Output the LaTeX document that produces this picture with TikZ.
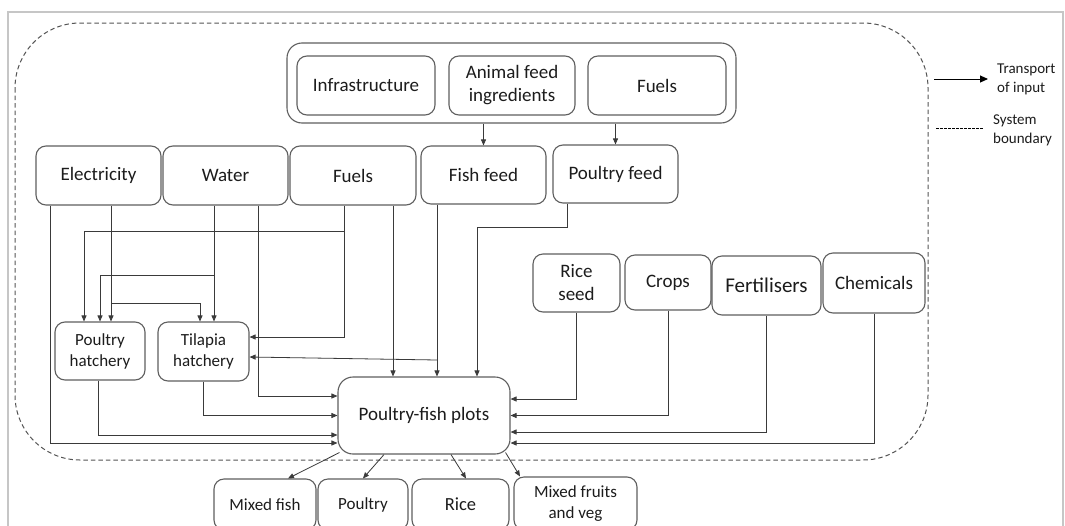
\documentclass[tikz,border=0pt]{standalone}
\usepackage{fontspec}
\setmainfont{Carlito}
\usetikzlibrary{arrows.meta}
\definecolor{boxline}{HTML}{5F5F5F}
\definecolor{wire}{HTML}{3A3A3A}
\definecolor{ink}{HTML}{1C1C1C}
\definecolor{framegray}{HTML}{C6C6C6}
\definecolor{bound}{HTML}{555555}
\begin{document}
\begin{tikzpicture}[x=1pt,y=-1pt,
  box/.style={draw=boxline, line width=1.1pt, rounded corners=10pt, inner sep=0pt,
    align=center, text=ink, font=\fontsize{19}{23}\selectfont},
  smallbox/.style={box, font=\fontsize{17}{21}\selectfont},
  arr/.style={draw=wire, line width=0.8pt, -{Triangle[length=6pt,width=5pt]}},
  legarr/.style={draw=black, line width=1pt, -{Triangle[length=8pt,width=7pt]}},
  legdash/.style={draw=black, line width=0.8pt, dash pattern=on 2.5pt off 1.5pt},
  legtext/.style={inner sep=0pt, align=left, text=ink, font=\fontsize{15}{19}\selectfont},
  boundary/.style={draw=bound, line width=1pt, dash pattern=on 4.5pt off 3pt, rounded corners=65pt}
]
\clip (0,0) rectangle (1065,525);
\fill[white] (0,0) rectangle (1065,525);
% page frame
\draw[framegray, line width=1.5pt] (8,540) -- (8,12) -- (1063,12) -- (1063,540);
% system boundary
\draw[boundary] (15,23) rectangle (928,460);

% upstream input group
\node[box, rounded corners=15pt, minimum width=449pt, minimum height=80pt] (grp) at (511.5,83) {};
\node[box, minimum width=138pt, minimum height=59pt] (infra) at (366,85.5) {Infrastructure};
\node[box, minimum width=126pt, minimum height=59pt] (afi) at (512,85.5) {Animal feed\\ingredients};
\node[box, minimum width=138pt, minimum height=59pt] (fuelsT) at (657,85.5) {Fuels};

% direct inputs
\node[box, minimum width=125pt, minimum height=59pt] (elec) at (98.5,175.5) {Electricity};
\node[box, minimum width=125pt, minimum height=59pt] (water) at (225.5,175.5) {Water};
\node[box, minimum width=126pt, minimum height=59pt] (fuels) at (353,175.5) {Fuels};
\node[box, minimum width=125pt, minimum height=58pt] (fishfeed) at (483.5,175) {Fish feed};
\node[box, minimum width=125pt, minimum height=58pt] (pfeed) at (615.5,174) {Poultry feed};

% hatcheries
\node[smallbox, minimum width=90pt, minimum height=58pt] (phatch) at (100,351) {Poultry\\hatchery};
\node[smallbox, minimum width=91pt, minimum height=59pt] (thatch) at (203.5,351.5) {Tilapia\\hatchery};

% central system
\node[box, rounded corners=15pt, minimum width=172pt, minimum height=77pt] (plots) at (424,415.5) {Poultry-fish plots};

% crop-side inputs
\node[box, minimum width=87pt, minimum height=58pt] (riceseed) at (576.5,283) {Rice\\seed};
\node[box, minimum width=86pt, minimum height=55pt] (crops) at (668,282.5) {Crops};
\node[box, font=\fontsize{21}{25}\selectfont, minimum width=109pt, minimum height=59pt] (fert) at (766.5,285.5) {Fertilisers};
\node[box, minimum width=102pt, minimum height=60pt] (chem) at (874,283) {Chemicals};

% outputs
\node[smallbox, minimum width=102pt, minimum height=51pt] (mfish) at (265,504.5) {Mixed fish};
\node[smallbox, minimum width=90pt, minimum height=51pt] (poultryO) at (363,504.5) {Poultry};
\node[box, font=\fontsize{18.5}{22}\selectfont, minimum width=97pt, minimum height=51pt] (riceO) at (460.5,504.5) {Rice};
\node[smallbox, minimum width=123pt, minimum height=53pt] (mfruit) at (575.5,503.5) {Mixed fruits\\and veg};

% branch points on shared supply lines
\coordinate (jElec) at (111,303);
\coordinate (jWater) at (214,275);
\coordinate (jFuel) at (344,231);
\coordinate (jFish) at (437,360);

% feed production
\draw[arr] (grp.south -| fishfeed.north) -- (fishfeed.north);
\draw[arr] (grp.south -| pfeed.north) -- (pfeed.north);

% electricity
\draw[arr] ([xshift=-48.5pt]elec.south) |- ([yshift=-27.5pt]plots.west);
\draw[arr] ([xshift=12.5pt]elec.south) -- ([xshift=11pt]phatch.north);
\draw[arr] (jElec) -| ([xshift=-3.5pt]thatch.north);

% water
\draw[arr] ([xshift=-11.5pt]water.south) -- ([xshift=10.5pt]thatch.north);
\draw[arr] (jWater) -| (phatch.north);
\draw[arr] ([xshift=32.5pt]water.south) |- ([yshift=19.5pt]plots.west);

% fuels
\draw[arr] ([xshift=-9pt]fuels.south) |- ([yshift=14.5pt]thatch.east);
\draw[arr] (jFuel) -| ([xshift=-16pt]phatch.north);
\draw[arr] ([xshift=40pt]fuels.south) -- ([xshift=-31pt]plots.north);

% fish feed
\draw[arr] ([xshift=-46.5pt]fishfeed.south) -- ([xshift=13pt]plots.north);
\draw[arr] (jFish) -- ([yshift=-5.5pt]thatch.east);

% poultry feed
\draw[arr] ([xshift=-48.5pt]pfeed.south) -- ++(0,24) -| ([xshift=53pt]plots.north);

% hatcheries to plots
\draw[arr] ([xshift=-2pt]phatch.south) |- ([yshift=-19.5pt]plots.west);
\draw[arr] (thatch.south) |- (plots.west);

% crop-side inputs to plots
\draw[arr] (riceseed.south) |- ([yshift=16.5pt]plots.east);
\draw[arr] (crops.south) |- (plots.east);
\draw[arr] (fert.south) |- ([yshift=-16.5pt]plots.east);
\draw[arr] (chem.south) |- ([yshift=-27.5pt]plots.east);

% outputs
\draw[arr] ([xshift=2pt,yshift=2pt]plots.south west) -- ([xshift=23pt]mfish.north);
\draw[arr] ([xshift=-40pt]plots.south) -- (poultryO.north);
\draw[arr] ([xshift=27pt]plots.south) -- ([xshift=5.5pt]riceO.north);
\draw[arr] ([xshift=-5pt,yshift=2pt]plots.south east) -- ([xshift=-55.5pt]mfruit.north);

% legend
\coordinate (lgA) at (934,79);
\coordinate (lgB) at (988,79);
\draw[legarr] (lgA) -- (lgB);
\node[legtext, anchor=west] (ltrans) at (997,79) {Transport\\of input};
\coordinate (lgC) at (936,128);
\coordinate (lgD) at (983,128);
\draw[legdash] (lgC) -- (lgD);
\node[legtext, anchor=west] (lsys) at (993,130) {System\\boundary};
\end{tikzpicture}
\end{document}
